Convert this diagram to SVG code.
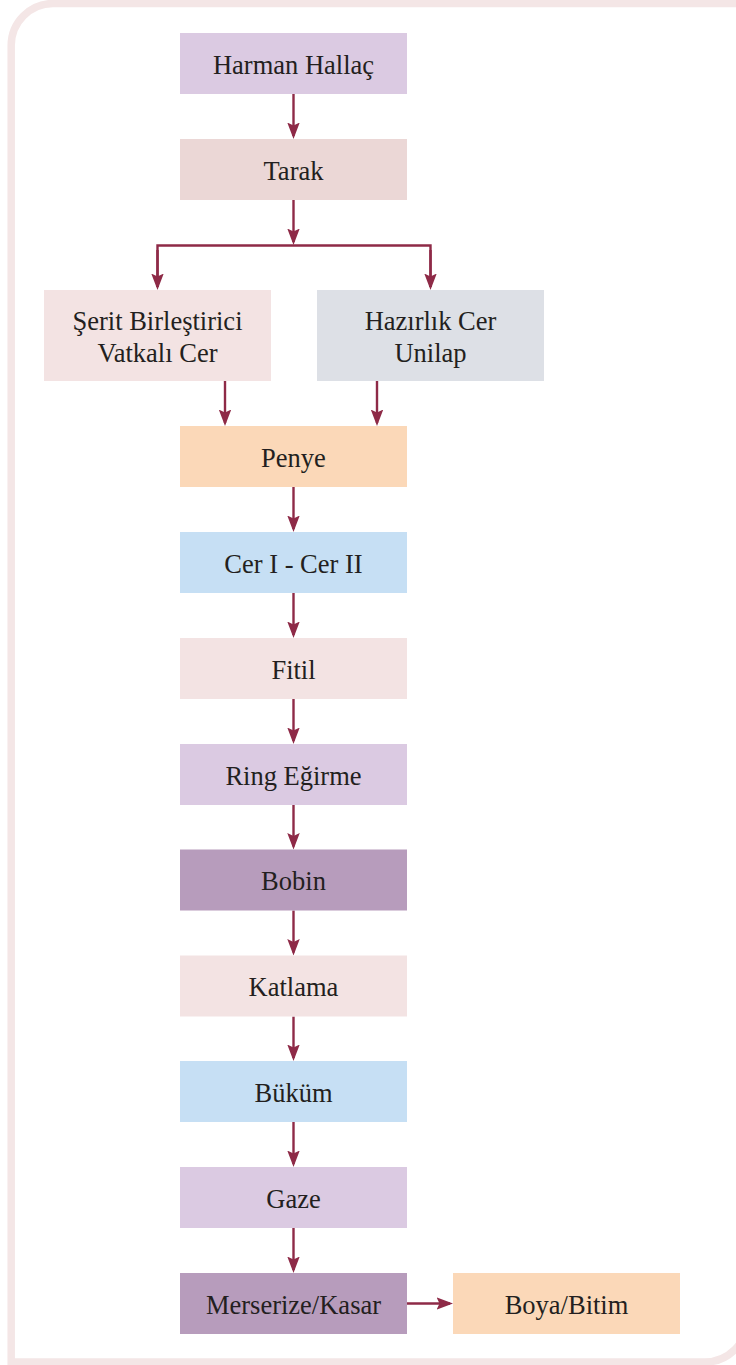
<svg xmlns="http://www.w3.org/2000/svg" width="736" height="1365" viewBox="0 0 736 1365">
  <style>
    .lbl { font-family: "Liberation Serif", "Times New Roman", serif; font-size: 26.5px; fill: #231f20; text-anchor: middle; }
    .edge { stroke: #8e2a47; stroke-width: 2.4; fill: none; }
    .lav { fill: #dbcae2; }
    .rose { fill: #ebd7d6; }
    .pink { fill: #f3e3e3; }
    .grey { fill: #dde0e6; }
    .peach { fill: #fbd8b8; }
    .blue { fill: #c6dff4; }
    .plum { fill: #b79cbc; }
  </style>
  <defs>
    <marker id="ah" markerUnits="userSpaceOnUse" markerWidth="17" markerHeight="13" refX="13.5" refY="6.25" orient="auto">
      <path d="M0,0 L16.5,6.25 L0,12.5 L3,6.25 Z" fill="#8e2a47"/>
    </marker>
  </defs>
  <rect x="0" y="0" width="736" height="1365" fill="#ffffff"/>
  <path id="frame" d="M760,3.5 L53,3.5 A42,42 0 0 0 11.2,45.5 L11.2,1362 L705,1362 A42,42 0 0 0 747,1320 L747,-10" fill="none" stroke="#f4e6e6" stroke-width="7.5"/>

  <g id="connectors">
    <line class="edge" x1="293.5" y1="94" x2="293.5" y2="136" marker-end="url(#ah)"/>
    <line class="edge" x1="293.5" y1="200" x2="293.5" y2="242" marker-end="url(#ah)"/>
    <polyline class="edge" points="157.5,287 157.5,245.5 430.5,245.5 430.5,287"/>
    <line class="edge" x1="157.5" y1="250" x2="157.5" y2="287" marker-end="url(#ah)"/>
    <line class="edge" x1="430.5" y1="250" x2="430.5" y2="287" marker-end="url(#ah)"/>
    <line class="edge" x1="225" y1="381" x2="225" y2="423" marker-end="url(#ah)"/>
    <line class="edge" x1="377" y1="381" x2="377" y2="423" marker-end="url(#ah)"/>
    <line class="edge" x1="293.5" y1="487" x2="293.5" y2="529" marker-end="url(#ah)"/>
    <line class="edge" x1="293.5" y1="593" x2="293.5" y2="635" marker-end="url(#ah)"/>
    <line class="edge" x1="293.5" y1="699" x2="293.5" y2="741" marker-end="url(#ah)"/>
    <line class="edge" x1="293.5" y1="805" x2="293.5" y2="846.5" marker-end="url(#ah)"/>
    <line class="edge" x1="293.5" y1="910.5" x2="293.5" y2="952.5" marker-end="url(#ah)"/>
    <line class="edge" x1="293.5" y1="1016.5" x2="293.5" y2="1058" marker-end="url(#ah)"/>
    <line class="edge" x1="293.5" y1="1122" x2="293.5" y2="1164" marker-end="url(#ah)"/>
    <line class="edge" x1="293.5" y1="1228" x2="293.5" y2="1270" marker-end="url(#ah)"/>
    <line class="edge" x1="407" y1="1303.5" x2="450" y2="1303.5" marker-end="url(#ah)"/>
  </g>

  <g id="n-harman"><rect class="lav" x="180" y="33" width="227" height="61"/><text class="lbl" x="293.5" y="73.5">Harman Hallaç</text></g>
  <g id="n-tarak"><rect class="rose" x="180" y="139" width="227" height="61"/><text class="lbl" x="293.5" y="179.5">Tarak</text></g>
  <g id="n-serit"><rect class="pink" x="44" y="290" width="227" height="91"/><text class="lbl" x="157.5" y="329.5">Şerit Birleştirici</text><text class="lbl" x="157.5" y="361.5">Vatkalı Cer</text></g>
  <g id="n-hazirlik"><rect class="grey" x="317" y="290" width="227" height="91"/><text class="lbl" x="430.5" y="329.5">Hazırlık Cer</text><text class="lbl" x="430.5" y="361.5">Unilap</text></g>
  <g id="n-penye"><rect class="peach" x="180" y="426" width="227" height="61"/><text class="lbl" x="293.5" y="466.5">Penye</text></g>
  <g id="n-cer"><rect class="blue" x="180" y="532" width="227" height="61"/><text class="lbl" x="293.5" y="572.5">Cer I - Cer II</text></g>
  <g id="n-fitil"><rect class="pink" x="180" y="638" width="227" height="61"/><text class="lbl" x="293.5" y="678.5">Fitil</text></g>
  <g id="n-ring"><rect class="lav" x="180" y="744" width="227" height="61"/><text class="lbl" x="293.5" y="784.5">Ring Eğirme</text></g>
  <g id="n-bobin"><rect class="plum" x="180" y="849.5" width="227" height="61"/><text class="lbl" x="293.5" y="890">Bobin</text></g>
  <g id="n-katlama"><rect class="pink" x="180" y="955.5" width="227" height="61"/><text class="lbl" x="293.5" y="996">Katlama</text></g>
  <g id="n-bukum"><rect class="blue" x="180" y="1061" width="227" height="61"/><text class="lbl" x="293.5" y="1101.5">Büküm</text></g>
  <g id="n-gaze"><rect class="lav" x="180" y="1167" width="227" height="61"/><text class="lbl" x="293.5" y="1207.5">Gaze</text></g>
  <g id="n-merserize"><rect class="plum" x="180" y="1273" width="227" height="61"/><text class="lbl" x="293.5" y="1313.5">Merserize/Kasar</text></g>
  <g id="n-boya"><rect class="peach" x="453" y="1273" width="227" height="61"/><text class="lbl" x="566.5" y="1313.5">Boya/Bitim</text></g>
</svg>
